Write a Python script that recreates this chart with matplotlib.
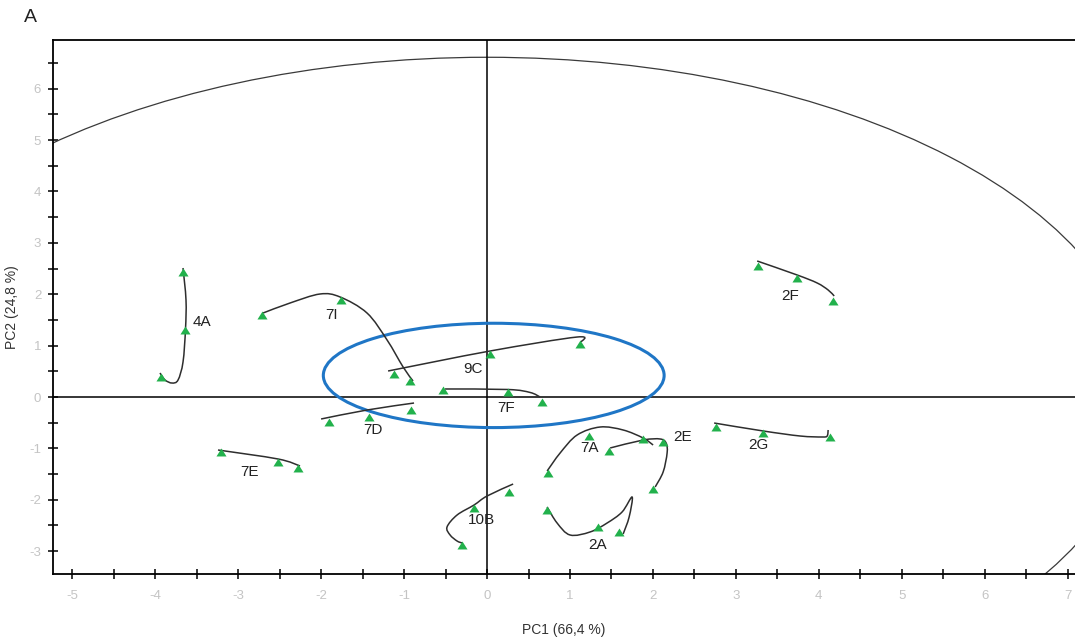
import numpy as np
import matplotlib
matplotlib.use("Agg")
import matplotlib.pyplot as plt
from matplotlib.path import Path
from matplotlib.patches import PathPatch, Ellipse
from matplotlib.ticker import MultipleLocator

plt.rcParams['font.family'] = ['Liberation Sans', 'DejaVu Sans']
plt.rcParams['axes.unicode_minus'] = False

# ---------------- data (PC1, PC2 scores) ----------------
samples = ["4A", "7I", "9C", "7F", "7D", "7E", "10B", "7A", "2E", "2G", "2F", "2A"]

# score points (three per sample)
pts_x = [
    [-3.67, -3.64, -3.93],   # 4A
    [-2.71, -1.76, -0.93],   # 7I
    [-1.12, 0.04, 1.12],     # 9C
    [-0.53, 0.25, 0.66],     # 7F
    [-1.91, -1.42, -0.92],   # 7D
    [-3.21, -2.52, -2.28],   # 7E
    [0.27, -0.16, -0.30],    # 10B
    [0.74, 1.23, 1.88],      # 7A
    [1.47, 2.12, 2.00],      # 2E
    [2.76, 3.33, 4.13],      # 2G
    [3.27, 3.74, 4.17],      # 2F
    [0.72, 1.34, 1.59],      # 2A
]
pts_y = [
    [2.51, 1.38, 0.47],
    [1.67, 1.96, 0.39],
    [0.53, 0.91, 1.11],
    [0.21, 0.18, -0.02],
    [-0.41, -0.31, -0.18],
    [-0.99, -1.19, -1.30],
    [-1.77, -2.08, -2.80],
    [-1.40, -0.68, -0.74],
    [-0.97, -0.80, -1.71],
    [-0.51, -0.62, -0.70],
    [2.63, 2.39, 1.95],
    [-2.12, -2.45, -2.55],
]

# trajectory traces
trace_x = [
    [-3.667, -3.631, -3.637, -3.667, -3.727, -3.800, -3.884, -3.945],
    [-2.702, -2.376, -2.015, -1.773, -1.448, -1.206, -1.013, -0.893],
    [-1.194, 0.036, 1.086, 1.134],
    [-0.507, 0.253, 0.519, 0.639],
    [-2.002, -1.448, -0.881],
    [-3.245, -2.521, -2.256],
    [0.314, 0.000, -0.157, -0.362, -0.483, -0.446, -0.362, -0.302],
    [0.724, 0.881, 1.086, 1.363, 1.641, 1.882, 2.002],
    [1.484, 1.882, 2.087, 2.159, 2.171, 2.123, 2.027],
    [2.738, 3.329, 3.776, 4.041, 4.101, 4.113],
    [3.257, 3.739, 3.981, 4.113, 4.186],
    [0.724, 0.844, 1.001, 1.242, 1.448, 1.628, 1.749, 1.713, 1.641],
]
trace_y = [
    [2.510, 1.887, 1.323, 0.681, 0.331, 0.272, 0.331, 0.467],
    [1.634, 1.829, 2.004, 1.946, 1.634, 1.109, 0.584, 0.311],
    [0.506, 0.895, 1.167, 1.070],
    [0.156, 0.146, 0.088, 0.000],
    [-0.428, -0.253, -0.117],
    [-1.031, -1.206, -1.342],
    [-1.693, -1.926, -2.101, -2.296, -2.529, -2.685, -2.802, -2.840],
    [-1.440, -1.089, -0.739, -0.584, -0.642, -0.798, -0.934],
    [-0.992, -0.837, -0.817, -0.895, -1.089, -1.459, -1.751],
    [-0.506, -0.661, -0.759, -0.778, -0.759, -0.642],
    [2.646, 2.374, 2.218, 2.082, 1.965],
    [-2.140, -2.451, -2.685, -2.626, -2.451, -2.237, -1.946, -2.335, -2.665],
]

# label positions
label_x = [-3.44, -1.88, -0.17, 0.23, -1.38, -2.87, -0.07, 1.23, 2.36, 3.27, 3.66, 1.33]
label_y = [1.46, 1.60, 0.55, -0.21, -0.64, -1.46, -2.39, -0.99, -0.78, -0.93, 1.97, -2.88]

# correlation ellipse (outer) and highlight ellipse
outer_a, outer_b = 7.886, 6.61
hl_center = (0.08, 0.42)
hl_width, hl_height = 4.11, 2.03

x_ticks = [-5, -4, -3, -2, -1, 0, 1, 2, 3, 4, 5, 6, 7]
y_ticks = [-3, -2, -1, 0, 1, 2, 3, 4, 5, 6]


def smooth_path(xs, ys):
    P = np.column_stack([xs, ys]).astype(float)
    n = len(P)
    verts = [P[0]]
    codes = [Path.MOVETO]
    for i in range(n - 1):
        p0 = P[i - 1] if i > 0 else P[i]
        p1 = P[i]
        p2 = P[i + 1]
        p3 = P[i + 2] if i + 2 < n else P[i + 1]
        c1 = p1 + (p2 - p0) / 6.0
        c2 = p2 - (p3 - p1) / 6.0
        verts += [c1, c2, p2]
        codes += [Path.CURVE4] * 3
    return Path(np.array(verts), codes)


fig = plt.figure(figsize=(10.75, 6.39), dpi=100)
ax = fig.add_axes([0.0493, 0.1017, 0.9507, 0.8357])
ax.set_xlim(-5.235, 7.09)
ax.set_ylim(-3.444, 6.946)

# outer ellipse
ax.add_patch(Ellipse((0, 0), 2 * outer_a, 2 * outer_b, fill=False,
                     edgecolor='#3a3a3a', lw=0.9, zorder=2))

# axes cross lines
ax.axhline(0, color='black', lw=1.1, zorder=2)
ax.axvline(0, color='black', lw=1.1, zorder=2)

# highlight ellipse
ax.add_patch(Ellipse(hl_center, hl_width, hl_height, fill=False,
                     edgecolor='#1f76c6', lw=2.2, zorder=3))

# triangle marker with apex at the data point
tri = Path([(0, 0), (-0.6, -0.95), (0.6, -0.95), (0, 0)],
           [Path.MOVETO, Path.LINETO, Path.LINETO, Path.CLOSEPOLY])

for i, name in enumerate(samples):
    ax.add_patch(PathPatch(smooth_path(trace_x[i], trace_y[i]), fill=False,
                           edgecolor='#2e2e2e', lw=1.1, zorder=4))
    ax.plot(pts_x[i], pts_y[i], linestyle='none', marker=tri, markersize=11.5,
            color='#22b14c', markeredgewidth=0, zorder=5)
    ax.text(label_x[i], label_y[i], name, ha='center', va='center',
            fontsize=11, color='#222222', zorder=6)

# ticks
ax.set_xticks(x_ticks)
ax.set_yticks(y_ticks)
ax.xaxis.set_minor_locator(MultipleLocator(0.5))
ax.yaxis.set_minor_locator(MultipleLocator(0.5))
ax.tick_params(which='both', direction='inout', length=7, width=1.1,
               color='black', labelcolor='#c4c4c4', labelsize=9.5)
ax.tick_params(axis='x', which='both', pad=8)
ax.tick_params(axis='y', which='both', pad=5)

for side in ['left', 'bottom', 'top']:
    ax.spines[side].set_linewidth(1.3)
    ax.spines[side].set_color('black')
ax.spines['right'].set_visible(False)

ax.set_xlabel('PC1 (66,4 %)', fontsize=10, color='#333333', labelpad=15)
ax.set_ylabel('PC2 (24,8 %)', fontsize=10, color='#333333', labelpad=7)

fig.text(30 / 1075, 1 - 18 / 639, 'A', fontsize=14, color='#222222',
         ha='center', va='center')

fig.savefig('out.png', dpi=100)
